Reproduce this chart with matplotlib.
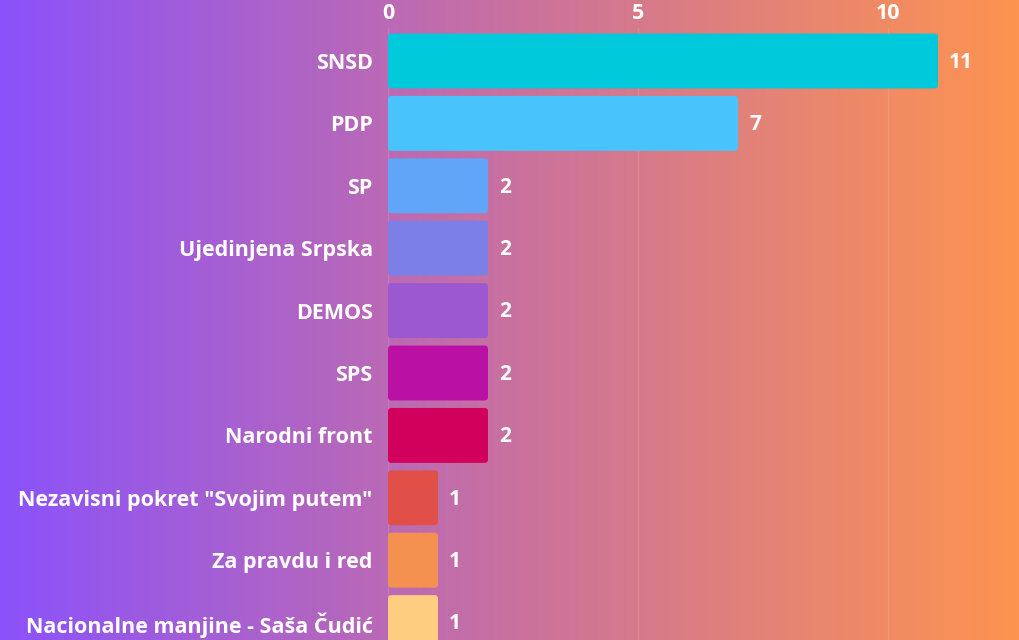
import numpy as np
import matplotlib.pyplot as plt
from matplotlib.colors import LinearSegmentedColormap
from matplotlib.patches import FancyBboxPatch

parties = [
    "SNSD",
    "PDP",
    "SP",
    "Ujedinjena Srpska",
    "DEMOS",
    "SPS",
    "Narodni front",
    'Nezavisni pokret "Svojim putem"',
    "Za pravdu i red",
    "Nacionalne manjine - Saša Čudić",
]
seats = [11, 7, 2, 2, 2, 2, 2, 1, 1, 1]
bar_colors = [
    "#00C9DB", "#48C3FB", "#60A5F8", "#7C80E6", "#9B58D0",
    "#BB10A4", "#D0005C", "#E05048", "#F59150", "#FFCD80",
]
ticks = [0, 5, 10]

plt.rcParams["font.family"] = ["Open Sans", "DejaVu Sans"]
plt.rcParams["font.weight"] = "bold"

fig = plt.figure(figsize=(10.2, 6.4), dpi=100)

# gradient background
bg = fig.add_axes([0, 0, 1, 1])
grad = LinearSegmentedColormap.from_list("bg", ["#8B52FB", "#C9719F", "#FD9450"])
bg.imshow(np.linspace(0, 1, 256)[None, :], aspect="auto", cmap=grad,
          extent=[0, 1, 0, 1])
bg.axis("off")

W, H = 1020, 640
x0, ytop = 388, 28
unit = 50.0
ax = fig.add_axes([x0 / W, 0, (W - x0) / W, (H - ytop) / H])
ax.patch.set_alpha(0)

step = 62.4
ax.set_xlim(0, (W - x0) / unit)
ax.set_ylim((H - 61) / step, -(61 - ytop) / step)

y = np.arange(len(parties))
bars = ax.barh(y, seats, height=0.88, color=bar_colors)
for b, c in zip(bars, bar_colors):
    b.set_visible(False)
    p = FancyBboxPatch((b.get_x(), b.get_y()), b.get_width(), b.get_height(),
                       boxstyle="round,pad=0,rounding_size=0.07",
                       mutation_aspect=unit / step, fc=c, ec="none")
    ax.add_patch(p)

for yi, v in zip(y, seats):
    ax.annotate(str(v), (v, yi), xytext=(8, -1), textcoords="offset points",
                va="center", ha="left", color="white", fontsize=15,
                fontweight="bold")

ax.set_yticks(y)
ax.set_yticklabels(parties, color="white", fontsize=15.5, fontweight="bold")
ax.set_xticks(ticks)
ax.xaxis.tick_top()
ax.tick_params(axis="x", colors="white", labelsize=15.5, length=0, pad=3)
ax.tick_params(axis="y", length=0, pad=11)
ax.grid(axis="x", color="white", alpha=0.12, lw=1)
ax.set_axisbelow(True)
for s in ax.spines.values():
    s.set_visible(False)

fig.savefig("out.png", dpi=100)
